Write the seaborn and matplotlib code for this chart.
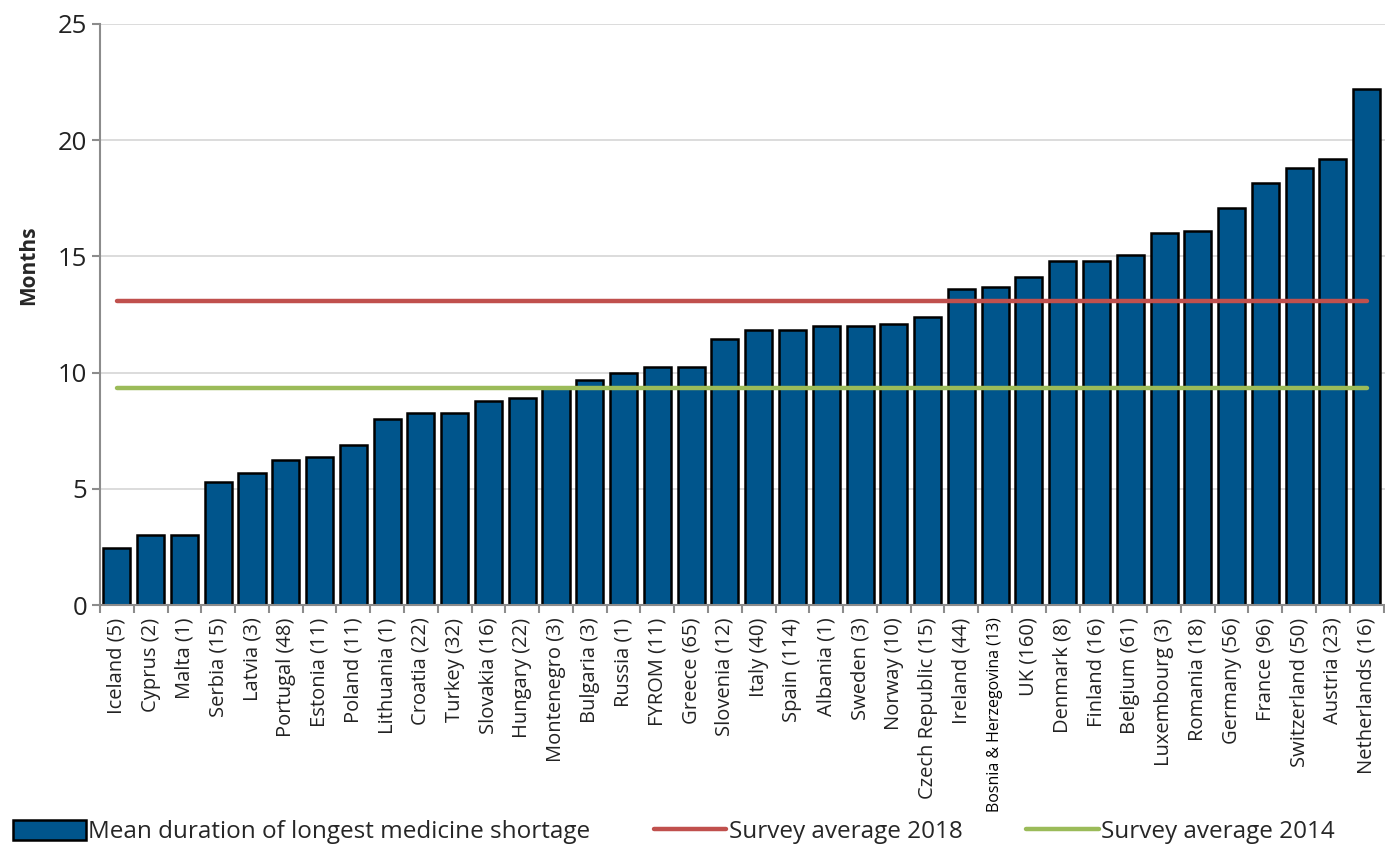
import matplotlib
matplotlib.use("Agg")
import matplotlib.pyplot as plt
from matplotlib.patches import Patch
from matplotlib.lines import Line2D
import numpy as np
import pandas as pd
import seaborn as sns

countries = ["Iceland (5)", "Cyprus (2)", "Malta (1)", "Serbia (15)", "Latvia (3)",
             "Portugal (48)", "Estonia (11)", "Poland (11)", "Lithuania (1)", "Croatia (22)",
             "Turkey (32)", "Slovakia (16)", "Hungary (22)", "Montenegro (3)", "Bulgaria (3)",
             "Russia (1)", "FYROM (11)", "Greece (65)", "Slovenia (12)", "Italy (40)",
             "Spain (114)", "Albania (1)", "Sweden (3)", "Norway (10)", "Czech Republic (15)",
             "Ireland (44)", "Bosnia & Herzegovina (13)", "UK (160)", "Denmark (8)", "Finland (16)",
             "Belgium (61)", "Luxembourg (3)", "Romania (18)", "Germany (56)", "France (96)",
             "Switzerland (50)", "Austria (23)", "Netherlands (16)"]
months = [2.45, 3.0, 3.0, 5.3, 5.7,
          6.25, 6.35, 6.9, 8.0, 8.25,
          8.25, 8.8, 8.9, 9.35, 9.7,
          10.0, 10.25, 10.25, 11.45, 11.85,
          11.85, 12.0, 12.0, 12.1, 12.4,
          13.6, 13.7, 14.1, 14.8, 14.8,
          15.05, 16.0, 16.1, 17.1, 18.15,
          18.8, 19.2, 22.2]
avg_2018 = 13.1
avg_2014 = 9.35

df = pd.DataFrame({"country": countries, "months": months})
df["avg2018"] = avg_2018
df["avg2014"] = avg_2014

sns.set_style("white")
plt.rcParams["font.family"] = ["Open Sans", "DejaVu Sans"]

fig = plt.figure(figsize=(13.85, 8.57), dpi=100)
ax = fig.add_axes([0.0722, 0.294, 0.928, 0.678])

sns.barplot(data=df, x="country", y="months", color="#00558C", saturation=1,
            edgecolor="black", linewidth=1.8, width=0.8, ax=ax, zorder=2)
ax.plot(np.arange(len(countries)), df["avg2018"], color="#C0504D", lw=3.2,
        solid_capstyle="round", zorder=3)
ax.plot(np.arange(len(countries)), df["avg2014"], color="#9BBB59", lw=3.2,
        solid_capstyle="round", zorder=3)

ax.set_xlim(-0.5, len(countries) - 0.45)
ax.set_ylim(0, 25)
ax.set_yticks([0, 5, 10, 15, 20, 25])
ax.yaxis.grid(True, color="#d9d9d9", lw=1.3, zorder=0)
ax.set_axisbelow(True)
for s in ["top", "right"]:
    ax.spines[s].set_visible(False)
for s in ["left", "bottom"]:
    ax.spines[s].set_color("#8c8c8c")
    ax.spines[s].set_linewidth(1.5)

ax.set_xlabel("")
ax.set_ylabel("Months", fontsize=15, fontweight="bold")
ax.yaxis.set_label_coords(-0.047, 0.585)
ax.tick_params(axis="y", labelsize=18.5, length=6, width=1.5, color="#8c8c8c",
               direction="out", left=True, pad=3, labelcolor="#222222")

ax.set_xticks(range(len(countries)))
ax.set_xticklabels(countries, rotation=90, fontsize=14.5, color="#222222")
ax.tick_params(axis="x", which="major", length=0, pad=9)
ax.set_xticks(np.arange(len(countries) + 1) - 0.5, minor=True)
ax.tick_params(axis="x", which="minor", length=6, width=1.5, color="#8c8c8c",
               direction="out", bottom=True)
for lab in ax.get_xticklabels():
    if lab.get_text().startswith("Bosnia"):
        lab.set_fontsize(11.5)
        lab.set_color("black")

handles = [Patch(facecolor="#00558C", edgecolor="black", linewidth=1.8),
           Line2D([], [], color="#C0504D", lw=3.2),
           Line2D([], [], color="#9BBB59", lw=3.2)]
labels = ["Mean duration of longest medicine shortage", "Survey average 2018",
          "Survey average 2014"]
fig.legend(handles, labels, loc="lower left", bbox_to_anchor=(-0.003, -0.005), ncol=3,
           frameon=False, fontsize=17.5, handlelength=3.0, handleheight=0.9,
           handletextpad=0.1, columnspacing=2.6, borderpad=0.2)

fig.savefig("out.png", dpi=100)
